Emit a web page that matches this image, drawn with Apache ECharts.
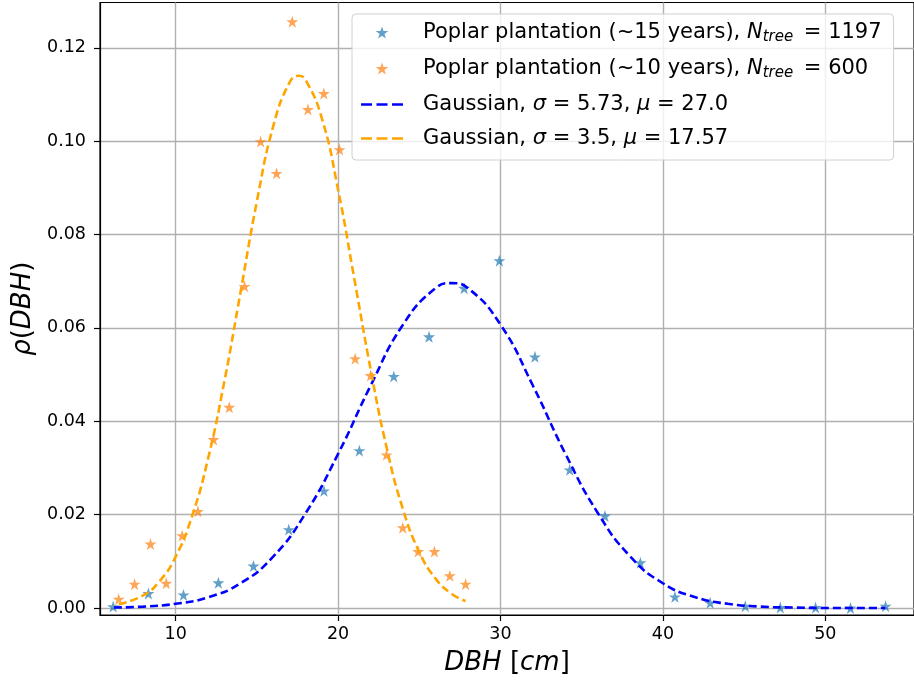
<!DOCTYPE html>
<html>
<head>
<meta charset="UTF-8">
<title>DBH distribution</title>
<script src="https://cdn.jsdelivr.net/npm/echarts@6/dist/echarts.min.js"></script>
<style>
  html, body { margin: 0; padding: 0; background: #fff; }
  #chart { width: 914px; height: 681px; }
</style>
</head>
<body>
<div id="chart"></div>
<script>
// measured points, poplar plantation ~15 years
var blueX = [6.15, 8.32, 10.48, 12.63, 14.79, 16.96, 19.13, 21.31, 23.43, 25.60, 27.76, 29.93,
             32.12, 34.26, 36.43, 38.61, 40.74, 42.91, 45.07, 47.23, 49.40, 51.55, 53.71];
var blueY = [0.0003, 0.0031, 0.0028, 0.0054, 0.0090, 0.0168, 0.0251, 0.0337, 0.0496, 0.0581, 0.0685, 0.0744,
             0.0538, 0.0296, 0.0197, 0.0097, 0.0024, 0.0011, 0.0004, 0.0001, 0.0001, 0.0000, 0.0004];

// poplar plantation ~10 years
var orangeX = [6.49, 7.47, 8.45, 9.42, 10.40, 11.37, 12.33, 13.30, 14.24, 15.23, 16.21, 17.18,
               18.14, 19.12, 20.09, 21.05, 22.00, 22.98, 23.98, 24.93, 25.93, 26.88, 27.85];
var orangeY = [0.0019, 0.0051, 0.0137, 0.0053, 0.0155, 0.0207, 0.0361, 0.0430, 0.0689, 0.0999, 0.0931, 0.1256,
               0.1068, 0.1102, 0.0982, 0.0534, 0.0498, 0.0328, 0.0172, 0.0121, 0.0121, 0.0069, 0.0051];

// fitted curves
var fitBlueX = [6.2, 8, 10, 12, 14, 16, 18, 20, 22, 24, 26, 27, 28, 30, 32, 34, 36, 38, 40, 42, 44, 46, 48, 50, 53.7];
var fitBlueY = [0.0001, 0.0003, 0.0009, 0.0023, 0.0053, 0.0110, 0.0203, 0.0330, 0.0476, 0.0607, 0.0685, 0.0696,
                0.0685, 0.0607, 0.0476, 0.0330, 0.0203, 0.0110, 0.0053, 0.0023, 0.0009, 0.0003, 0.0001, 0.0000, 0.0000];
var fitOrangeX = [6.5, 8, 9, 10, 11, 12, 13, 14, 15, 16, 17, 17.57, 18, 19, 20, 21, 22, 23, 24, 25, 26, 27, 27.85];
var fitOrangeY = [0.0008, 0.0027, 0.0057, 0.0110, 0.0196, 0.0321, 0.0486, 0.0678, 0.0871, 0.1031, 0.1125, 0.1140,
                  0.1131, 0.1049, 0.0896, 0.0705, 0.0512, 0.0342, 0.0211, 0.0120, 0.0063, 0.0030, 0.0015];

var xTicks = [10, 20, 30, 40, 50];
var yTicks = [0, 0.02, 0.04, 0.06, 0.08, 0.10, 0.12];

var names = ['Poplar plantation (~15 years), N_tree = 1197',
             'Poplar plantation (~10 years), N_tree = 600',
             'Gaussian, sigma = 5.73, mu = 27.0',
             'Gaussian, sigma = 3.5, mu = 17.57'];
var legendText = [
  '{r|Poplar plantation (~15 years), }{i|N}{s|tree}{r| = 1197}',
  '{r|Poplar plantation (~10 years), }{i|N}{s|tree}{r| = 600}',
  '{r|Gaussian, }{i|σ}{r| = 5.73, }{i|μ}{r| = 27.0}',
  '{r|Gaussian, }{i|σ}{r| = 3.5, }{i|μ}{r| = 17.57}'
];

var STAR = 'path://M50,0 L61.23,34.55 L97.55,34.55 L68.17,55.9 L79.39,90.45 L50,69.1 L20.61,90.45 L31.83,55.9 L2.45,34.55 L38.77,34.55 Z';
var DASHES = 'path://M0,0h11v2.6h-11z M15.5,0h11v2.6h-11z M31,0h11v2.6h-11z';
var FONT = 'DejaVu Sans';

function zip(xs, ys) {
  var out = [];
  for (var i = 0; i < xs.length; i++) out.push([xs[i], ys[i]]);
  return out;
}

var chart = echarts.init(document.getElementById('chart'), null, {renderer: 'canvas'});

var option = {
  animation: false,
  backgroundColor: '#ffffff',
  textStyle: {fontFamily: FONT, color: '#000'},
  grid: {
    left: 100, top: 2.5, right: -8, bottom: 64,
    show: true, borderColor: '#000', borderWidth: 1.2, backgroundColor: 'transparent'
  },
  legend: {
    orient: 'vertical',
    left: 352, top: 14,
    padding: [8, 12, 11, 9],
    itemGap: 13,
    itemWidth: 42,
    itemHeight: 12,
    backgroundColor: 'rgba(255,255,255,0.8)',
    borderColor: '#d0d0d0',
    borderWidth: 1,
    borderRadius: 4,
    data: [
      {name: names[0], icon: STAR},
      {name: names[1], icon: STAR},
      {name: names[2], icon: DASHES},
      {name: names[3], icon: DASHES}
    ],
    formatter: function (n) { return legendText[names.indexOf(n)]; },
    textStyle: {
      padding: [0, 0, 0, 15],
      rich: {
        r: {fontSize: 21, fontFamily: FONT, color: '#000', lineHeight: 25},
        i: {fontSize: 21, fontFamily: FONT, fontStyle: 'italic', color: '#000', lineHeight: 25},
        s: {fontSize: 15, fontFamily: FONT, fontStyle: 'italic', color: '#000', lineHeight: 14,
            verticalAlign: 'bottom', padding: [0, 4, 0, 0]}
      }
    }
  },
  xAxis: {
    type: 'value',
    min: 5.34, max: 55.46,
    name: '{i|DBH}{r| [}{i|cm}{r|]}',
    nameLocation: 'middle',
    nameGap: 35,
    nameTextStyle: {
      rich: {
        i: {fontSize: 26, fontFamily: FONT, fontStyle: 'italic', color: '#000'},
        r: {fontSize: 26, fontFamily: FONT, color: '#000'}
      }
    },
    axisLine: {onZero: false, lineStyle: {color: '#000', width: 1.2}},
    axisTick: {show: true, length: 6, lineStyle: {color: '#000', width: 1.2}, customValues: xTicks},
    axisLabel: {fontSize: 17.5, color: '#000', margin: 10, customValues: xTicks,
                formatter: function (v) { return String(v); }},
    splitLine: {show: true, lineStyle: {color: '#b0b0b0', width: 1.4}}
  },
  yAxis: {
    type: 'value',
    min: -0.0015, max: 0.1297,
    name: '{i|ρ}{r|(}{i|DBH}{r|)}',
    nameLocation: 'middle',
    nameRotate: 90,
    nameGap: 58,
    nameTextStyle: {
      rich: {
        i: {fontSize: 26, fontFamily: FONT, fontStyle: 'italic', color: '#000'},
        r: {fontSize: 26, fontFamily: FONT, color: '#000'}
      }
    },
    axisLine: {show: true, lineStyle: {color: '#000', width: 1.2}},
    axisTick: {show: true, length: 6, lineStyle: {color: '#000', width: 1.2}, customValues: yTicks},
    axisLabel: {fontSize: 17.5, color: '#000', margin: 14, customValues: yTicks,
                formatter: function (v) { return v.toFixed(2); }},
    splitLine: {show: true, lineStyle: {color: '#b0b0b0', width: 1.4}}
  },
  series: [
    {
      name: names[0], type: 'scatter', symbol: STAR, symbolSize: 12,
      itemStyle: {color: '#1f77b4', opacity: 0.7},
      data: zip(blueX, blueY)
    },
    {
      name: names[1], type: 'scatter', symbol: STAR, symbolSize: 12,
      itemStyle: {color: '#ff7f0e', opacity: 0.7},
      data: zip(orangeX, orangeY)
    },
    {
      name: names[2], type: 'line', symbol: 'none', smooth: true,
      lineStyle: {color: '#0000ff', width: 2.6, type: [8, 4]},
      itemStyle: {color: '#0000ff'},
      data: zip(fitBlueX, fitBlueY)
    },
    {
      name: names[3], type: 'line', symbol: 'none', smooth: true,
      lineStyle: {color: '#ffa500', width: 2.6, type: [8, 4]},
      itemStyle: {color: '#ffa500'},
      data: zip(fitOrangeX, fitOrangeY)
    }
  ]
};

chart.setOption(option);
</script>
</body>
</html>
